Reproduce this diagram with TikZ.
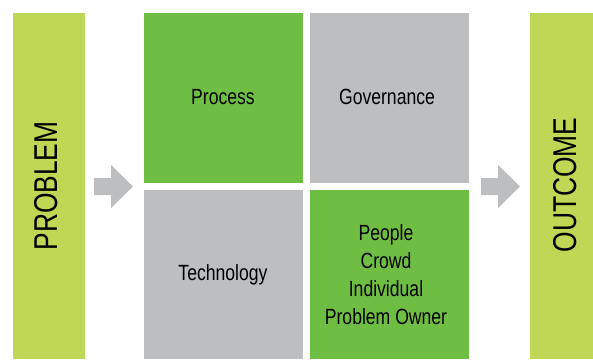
\documentclass[tikz,border=0pt]{standalone}
\usepackage{fontspec}
\setmainfont{Liberation Sans}[FakeStretch=0.8]
\definecolor{limegreen}{HTML}{BED754}
\definecolor{leafgreen}{HTML}{6FBE44}
\definecolor{panelgray}{HTML}{BCBEC0}
\begin{document}
\begin{tikzpicture}[x=1pt,y=-1pt,
  bar/.style={fill=limegreen, draw=none, inner sep=0pt, anchor=north west},
  cell/.style={draw=none, inner sep=0pt, anchor=north west,
    align=center, font=\fontsize{22}{28}\selectfont},
  barlabel/.style={font=\fontsize{33}{33}\selectfont, inner sep=0pt},
  blockarrow/.style={fill=panelgray, draw=none}]
\useasboundingbox (0,0) rectangle (593,359);

% side bars
\node[bar, minimum width=72pt, minimum height=346pt] (problem) at (13,13) {};
\node[bar, minimum width=63pt, minimum height=346pt] (outcome) at (530,13) {};
\node[barlabel, rotate=90] (problemtext) at (46,186) {PROBLEM};
\node[barlabel, rotate=90] (outcometext) at (565,185) {OUTCOME};

% two-by-two grid
\node[cell, fill=leafgreen, minimum width=159pt, minimum height=170pt] (process) at (144,13) {};
\node[cell, fill=panelgray, minimum width=159pt, minimum height=170pt] (governance) at (310,13) {};
\node[cell, fill=panelgray, minimum width=159pt, minimum height=169pt] (technology) at (144,190) {};
\node[cell, fill=leafgreen, minimum width=159pt, minimum height=169pt] (people) at (310,190) {};

\node[cell, anchor=center] at (223,97) {Process};
\node[cell, anchor=center] at (387,97) {Governance};
\node[cell, anchor=center] at (223,275) {Technology};
\node[cell, anchor=center] at (386,275) {People\\Crowd\\Individual\\Problem Owner};

% block arrows between the bars and the grid
\fill[blockarrow] (94,178) -- (111,178) -- (111,165) -- (133,186.5)
  -- (111,208) -- (111,195) -- (94,195) -- cycle;
\fill[blockarrow] (481,178) -- (498,178) -- (498,165) -- (520,186.5)
  -- (498,208) -- (498,195) -- (481,195) -- cycle;
\end{tikzpicture}
\end{document}
